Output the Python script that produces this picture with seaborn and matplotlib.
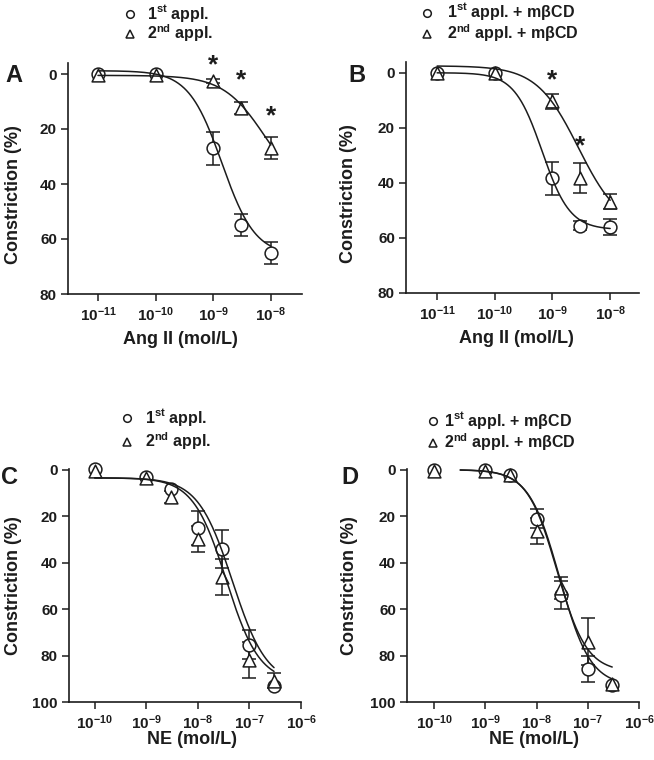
import numpy as np
import pandas as pd
import matplotlib
matplotlib.use("Agg")
import matplotlib.pyplot as plt
from matplotlib.lines import Line2D
import seaborn as sns

# ---------------- data ----------------
# log10 concentrations
x_ang = [-11, -10, -9, -8.523, -8]
x_ne = [-10, -9, -8.523, -8, -7.523, -7, -6.523]

# Panel A (Ang II)
a1_y = [0, 0, 27, 55, 65]
a1_e = [0, 0, 6, 4, 4]
a2_y = [0.3, 0.3, 2.5, 12.3, 27]
a2_e = [0, 0, 0.8, 2.3, 4]
# Panel B (Ang II + mbCD)
b1_y = [0, 0, 38.4, 55.5, 56.1]
b1_e = [0, 0, 6.1, 1.7, 2.9]
b2_y = [0.1, 0.1, 10.4, 38.3, 46.8]
b2_e = [0, 0, 2.8, 5.4, 2.8]
# Panel C (NE)
c1_y = [-0.4, 3.2, 8.3, 25.1, 34.2, 75.4, 93.1]
c1_e = [0, 0, 0, 7.5, 8.2, 6.3, 0]
c2_y = [0.4, 3.6, 11.8, 29.9, 46.2, 81.9, 90.8]
c2_e = [0, 0, 2.5, 5.7, 7.6, 7.9, 3.2]
# Panel D (NE + mbCD)
d1_y = [0, 0, 2.4, 21.1, 53.9, 85.9, 92.7]
d1_e = [0, 0, 0, 4.1, 6.0, 5.5, 0]
d2_y = [0.4, 0.4, 2.2, 26.3, 51.0, 74.0, 92.3]
d2_e = [0, 0, 0, 5.6, 4.7, 10.0, 0]

# Fitted Hill-curve parameters: bottom, top, logEC50, hill, x_start, x_end
fit_a1 = [-1.2, 66, -8.85, 1.5, -11, -8]
fit_a2 = [0.5, 45, -8.1, 1.2, -11, -8]
fit_b1 = [0, 57, -9.18, 1.8, -11, -8]
fit_b2 = [-2.5, 57, -8.55, 1.2, -11, -8]
fit_c1 = [3.5, 92.5, -7.33, 1.3, -10, -6.523]
fit_c2 = [3.5, 91.5, -7.45, 1.35, -10, -6.523]
fit_d1 = [0, 93, -7.55, 1.45, -9.49, -6.523]
fit_d2 = [0, 87, -7.6, 1.5, -9.49, -6.523]

# significance stars (x, y)
stars_a = [(-9, -3.3), (-8.523, 2.2), (-8, 15.5)]
stars_b = [(-9, 2.7), (-8.523, 26.9)]

ticks_ang = [-11, -10, -9, -8]
ticks_ne = [-10, -9, -8, -7, -6]
tlab_ang = [r"10$^{-11}$", r"10$^{-10}$", r"10$^{-9}$", r"10$^{-8}$"]
tlab_ne = [r"10$^{-10}$", r"10$^{-9}$", r"10$^{-8}$", r"10$^{-7}$", r"10$^{-6}$"]

leg_plain = [r"1$^{st}$ appl.", r"2$^{nd}$ appl."]
leg_mbcd = [r"1$^{st}$ appl. + mβCD", r"2$^{nd}$ appl. + mβCD"]

# ---------------- style ----------------
sns.set_style("ticks")
plt.rcParams["font.family"] = ["Liberation Sans", "DejaVu Sans"]
plt.rcParams["font.weight"] = "bold"
plt.rcParams["axes.labelweight"] = "bold"
plt.rcParams["mathtext.fontset"] = "custom"
plt.rcParams["mathtext.rm"] = "Liberation Sans:bold"
plt.rcParams["mathtext.it"] = "Liberation Sans:bold"
plt.rcParams["mathtext.bf"] = "Liberation Sans:bold"
plt.rcParams["mathtext.default"] = "rm"

INK = "#1c1c1c"
W, H = 654, 760
fig = plt.figure(figsize=(W / 100, H / 100), dpi=100)


def add_ax(l, t, r, b):
    return fig.add_axes([l / W, 1 - b / H, (r - l) / W, (b - t) / H])


def hill(p, n=300):
    bottom, top, ec50, h, xs, xe = p
    xx = np.linspace(xs, xe, n)
    return xx, bottom + (top - bottom) / (1 + 10 ** ((ec50 - xx) * h))


def series(ax, xs, ys, es, marker, fit):
    xx, yy = hill(fit)
    sns.lineplot(x=xx, y=yy, ax=ax, color=INK, lw=1.1, estimator=None,
                 sort=False, zorder=5)
    xs_e = [x for x, e in zip(xs, es) if e > 0]
    ys_e = [y for y, e in zip(ys, es) if e > 0]
    es_e = [e for e in es if e > 0]
    ax.errorbar(xs_e, ys_e, yerr=es_e, fmt="none", ecolor=INK,
                elinewidth=1.1, capsize=4.8, capthick=1.1, zorder=2,
                clip_on=False)
    sns.scatterplot(x=xs, y=ys, ax=ax, marker=marker, s=85, color="white",
                    edgecolor=INK, linewidth=1.1, zorder=3, clip_on=False,
                    legend=False)


def style(ax, xlim, ylim, xticks, xlabels, yticks, xlabel, xl_pos, yl_pos):
    ax.set_xlim(*xlim)
    ax.set_ylim(*ylim)
    ax.set_xticks(xticks)
    ax.set_xticklabels(xlabels)
    ax.set_yticks(yticks)
    ax.set_yticklabels([str(v) for v in yticks])
    sns.despine(ax=ax)
    for s in ("left", "bottom"):
        ax.spines[s].set_linewidth(1.2)
        ax.spines[s].set_color(INK)
    ax.tick_params(direction="out", length=5, width=1.1, color=INK,
                   labelsize=11, pad=3, labelcolor=INK)
    ax.set_xlabel(xlabel, fontsize=13, color=INK)
    ax.set_ylabel("Constriction (%)", fontsize=13, color=INK)
    ax.xaxis.set_label_coords(*xl_pos)
    ax.yaxis.set_label_coords(*yl_pos)
    ax.xaxis.label.set_va("center")
    ax.yaxis.label.set_va("center")


def legend(mx, y1, y2, tx, labels):
    for mk, y, lab in zip(["o", "^"], [y1, y2], labels):
        fig.add_artist(Line2D([mx / W], [1 - y / H], marker=mk, ms=5.5,
                              mfc="white", mec=INK, mew=1.1, ls="none",
                              transform=fig.transFigure))
        fig.text(tx / W, 1 - (y + 5) / H, lab, fontsize=11.5, ha="left",
                 va="baseline", color=INK)


def letter(x, y, s):
    fig.text(x / W, 1 - y / H, s, fontsize=17, ha="center", va="center",
             color=INK, fontweight="bold")


def stars(ax, pts):
    for x, y in pts:
        ax.text(x, y, "*", fontsize=19, ha="center", va="center", color=INK)


# Panel A
axA = add_ax(68, 63, 302, 294)
series(axA, x_ang, a1_y, a1_e, "o", fit_a1)
series(axA, x_ang, a2_y, a2_e, "^", fit_a2)
style(axA, (-11.52, -7.46), (80, -4), ticks_ang, tlab_ang, [0, 20, 40, 60, 80],
      "Ang II (mol/L)", (0.48, -0.195), (-0.235, 0.43))
stars(axA, stars_a)
legend(130, 13.5, 33.5, 147, leg_plain)
letter(14, 76, "A")

# Panel B
axB = add_ax(406, 62, 639, 293)
series(axB, x_ang, b1_y, b1_e, "o", fit_b1)
series(axB, x_ang, b2_y, b2_e, "^", fit_b2)
style(axB, (-11.54, -7.5), (80, -3.9), ticks_ang, tlab_ang, [0, 20, 40, 60, 80],
      "Ang II (mol/L)", (0.476, -0.195), (-0.245, 0.43))
stars(axB, stars_b)
legend(427, 12.5, 33.5, 447, leg_mbcd)
letter(357, 75, "B")

# Panel C
axC = add_ax(69, 469, 301, 702)
series(axC, x_ne, c1_y, c1_e, "o", fit_c1)
series(axC, x_ne, c2_y, c2_e, "^", fit_c2)
style(axC, (-10.5, -6), (100, -0.3), ticks_ne, tlab_ne, [0, 20, 40, 60, 80, 100],
      "NE (mol/L)", (0.53, -0.163), (-0.24, 0.5))
legend(127, 418, 442, 145, leg_plain)
letter(10, 477, "C")

# Panel D
axD = add_ax(407, 469, 639, 702)
series(axD, x_ne, d1_y, d1_e, "o", fit_d1)
series(axD, x_ne, d2_y, d2_e, "^", fit_d2)
style(axD, (-10.53, -6), (100, -0.3), ticks_ne, tlab_ne, [0, 20, 40, 60, 80, 100],
      "NE (mol/L)", (0.547, -0.163), (-0.25, 0.5))
legend(433, 421, 443, 444, leg_mbcd)
letter(350, 477, "D")

fig.savefig("out.png", dpi=100)
